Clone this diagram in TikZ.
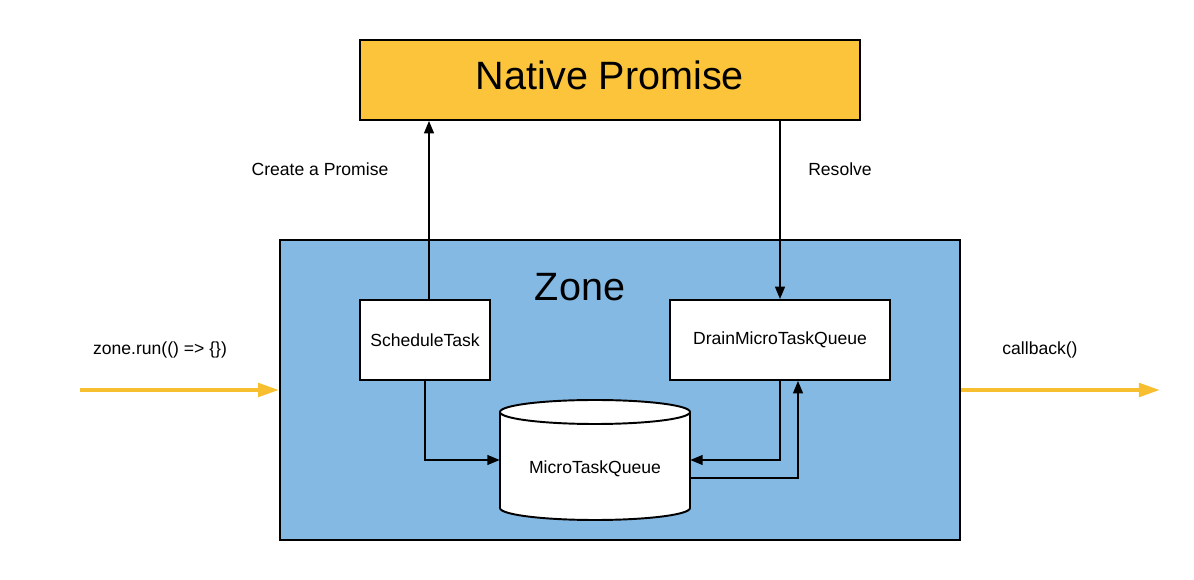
\documentclass[tikz,border=0pt]{standalone}
\usepackage{fontspec}
\setmainfont{Liberation Sans}
\usetikzlibrary{arrows.meta}
\definecolor{promiseyellow}{RGB}{251,196,58}
\definecolor{zoneblue}{RGB}{132,185,227}
\definecolor{flowyellow}{RGB}{247,190,48}
\tikzset{box/.style={draw=black, fill=white, line width=1.1pt, inner sep=0pt, font=\fontsize{10}{12}\selectfont},
  link/.style={draw=black, line width=0.85pt, -{Triangle[length=7pt,width=5.6pt]}},
  flow/.style={draw=flowyellow, line width=2.3pt, -{Triangle[length=12pt,width=7.6pt]}},
  lbl/.style={font=\fontsize{10}{12}\selectfont},
  big/.style={font=\fontsize{22.5}{27}\selectfont}}

\begin{document}
\begin{tikzpicture}[x=0.02cm, y=-0.02cm]
  \useasboundingbox (0,0) rectangle (1194,580);

  \node[box, fill=promiseyellow, minimum width=10cm, minimum height=1.6cm] (np) at (610,80) {};
  \node[big] (npt) at (610,75) {Native Promise};
  \node[box, fill=zoneblue, minimum width=13.6cm, minimum height=6cm] (zone) at (620,390) {};
  \node[big] (zl) at (580,287) {Zone};

  \node[box, minimum width=2.6cm, minimum height=1.6cm] (st) at (425,340) {ScheduleTask};
  \node[box, minimum width=4.4cm, minimum height=1.6cm] (dq) at (780,340) {DrainMicroTaskQueue};
  \node[minimum width=3.8cm, minimum height=2.4cm, inner sep=0pt] (mq) at (595,460) {};

  % cylinder
  \fill[white] (500,412) -- (500,508) arc[start angle=180, end angle=0, x radius=95, y radius=12] -- (690,412) -- cycle;
  \draw[line width=1.1pt] (500,412) -- (500,508) arc[start angle=180, end angle=0, x radius=95, y radius=12] -- (690,412);
  \draw[line width=1.1pt, fill=white] (595,412) ellipse [x radius=95, y radius=12];
  \node[lbl] (mqt) at (595,469) {MicroTaskQueue};

  \node[lbl] (cp) at (320,169) {Create a Promise};
  \node[lbl] (rs) at (840,169) {Resolve};
  \node[lbl] (zr) at (160,350) {zone.run(() => \{\})};
  \node[lbl] (cb) at (1040,350) {callback()};

  \coordinate (in) at (80,390);
  \coordinate (out) at (1160,390);

  \draw[link] ([xshift=0.08cm]st.north) -- ([xshift=0.08cm]st.north |- np.south);
  \draw[link] (dq.north |- np.south) -- (dq.north);
  \draw[link] (st.south) |- (mq.west);
  \draw[link] (dq.south) |- (mq.east);
  \draw[link] ([yshift=-0.36cm]mq.east) -| ([xshift=0.36cm]dq.south);

  \draw[flow] (in) -- (zone.west);
  \draw[flow] (zone.east) -- (out);
\end{tikzpicture}
\end{document}
